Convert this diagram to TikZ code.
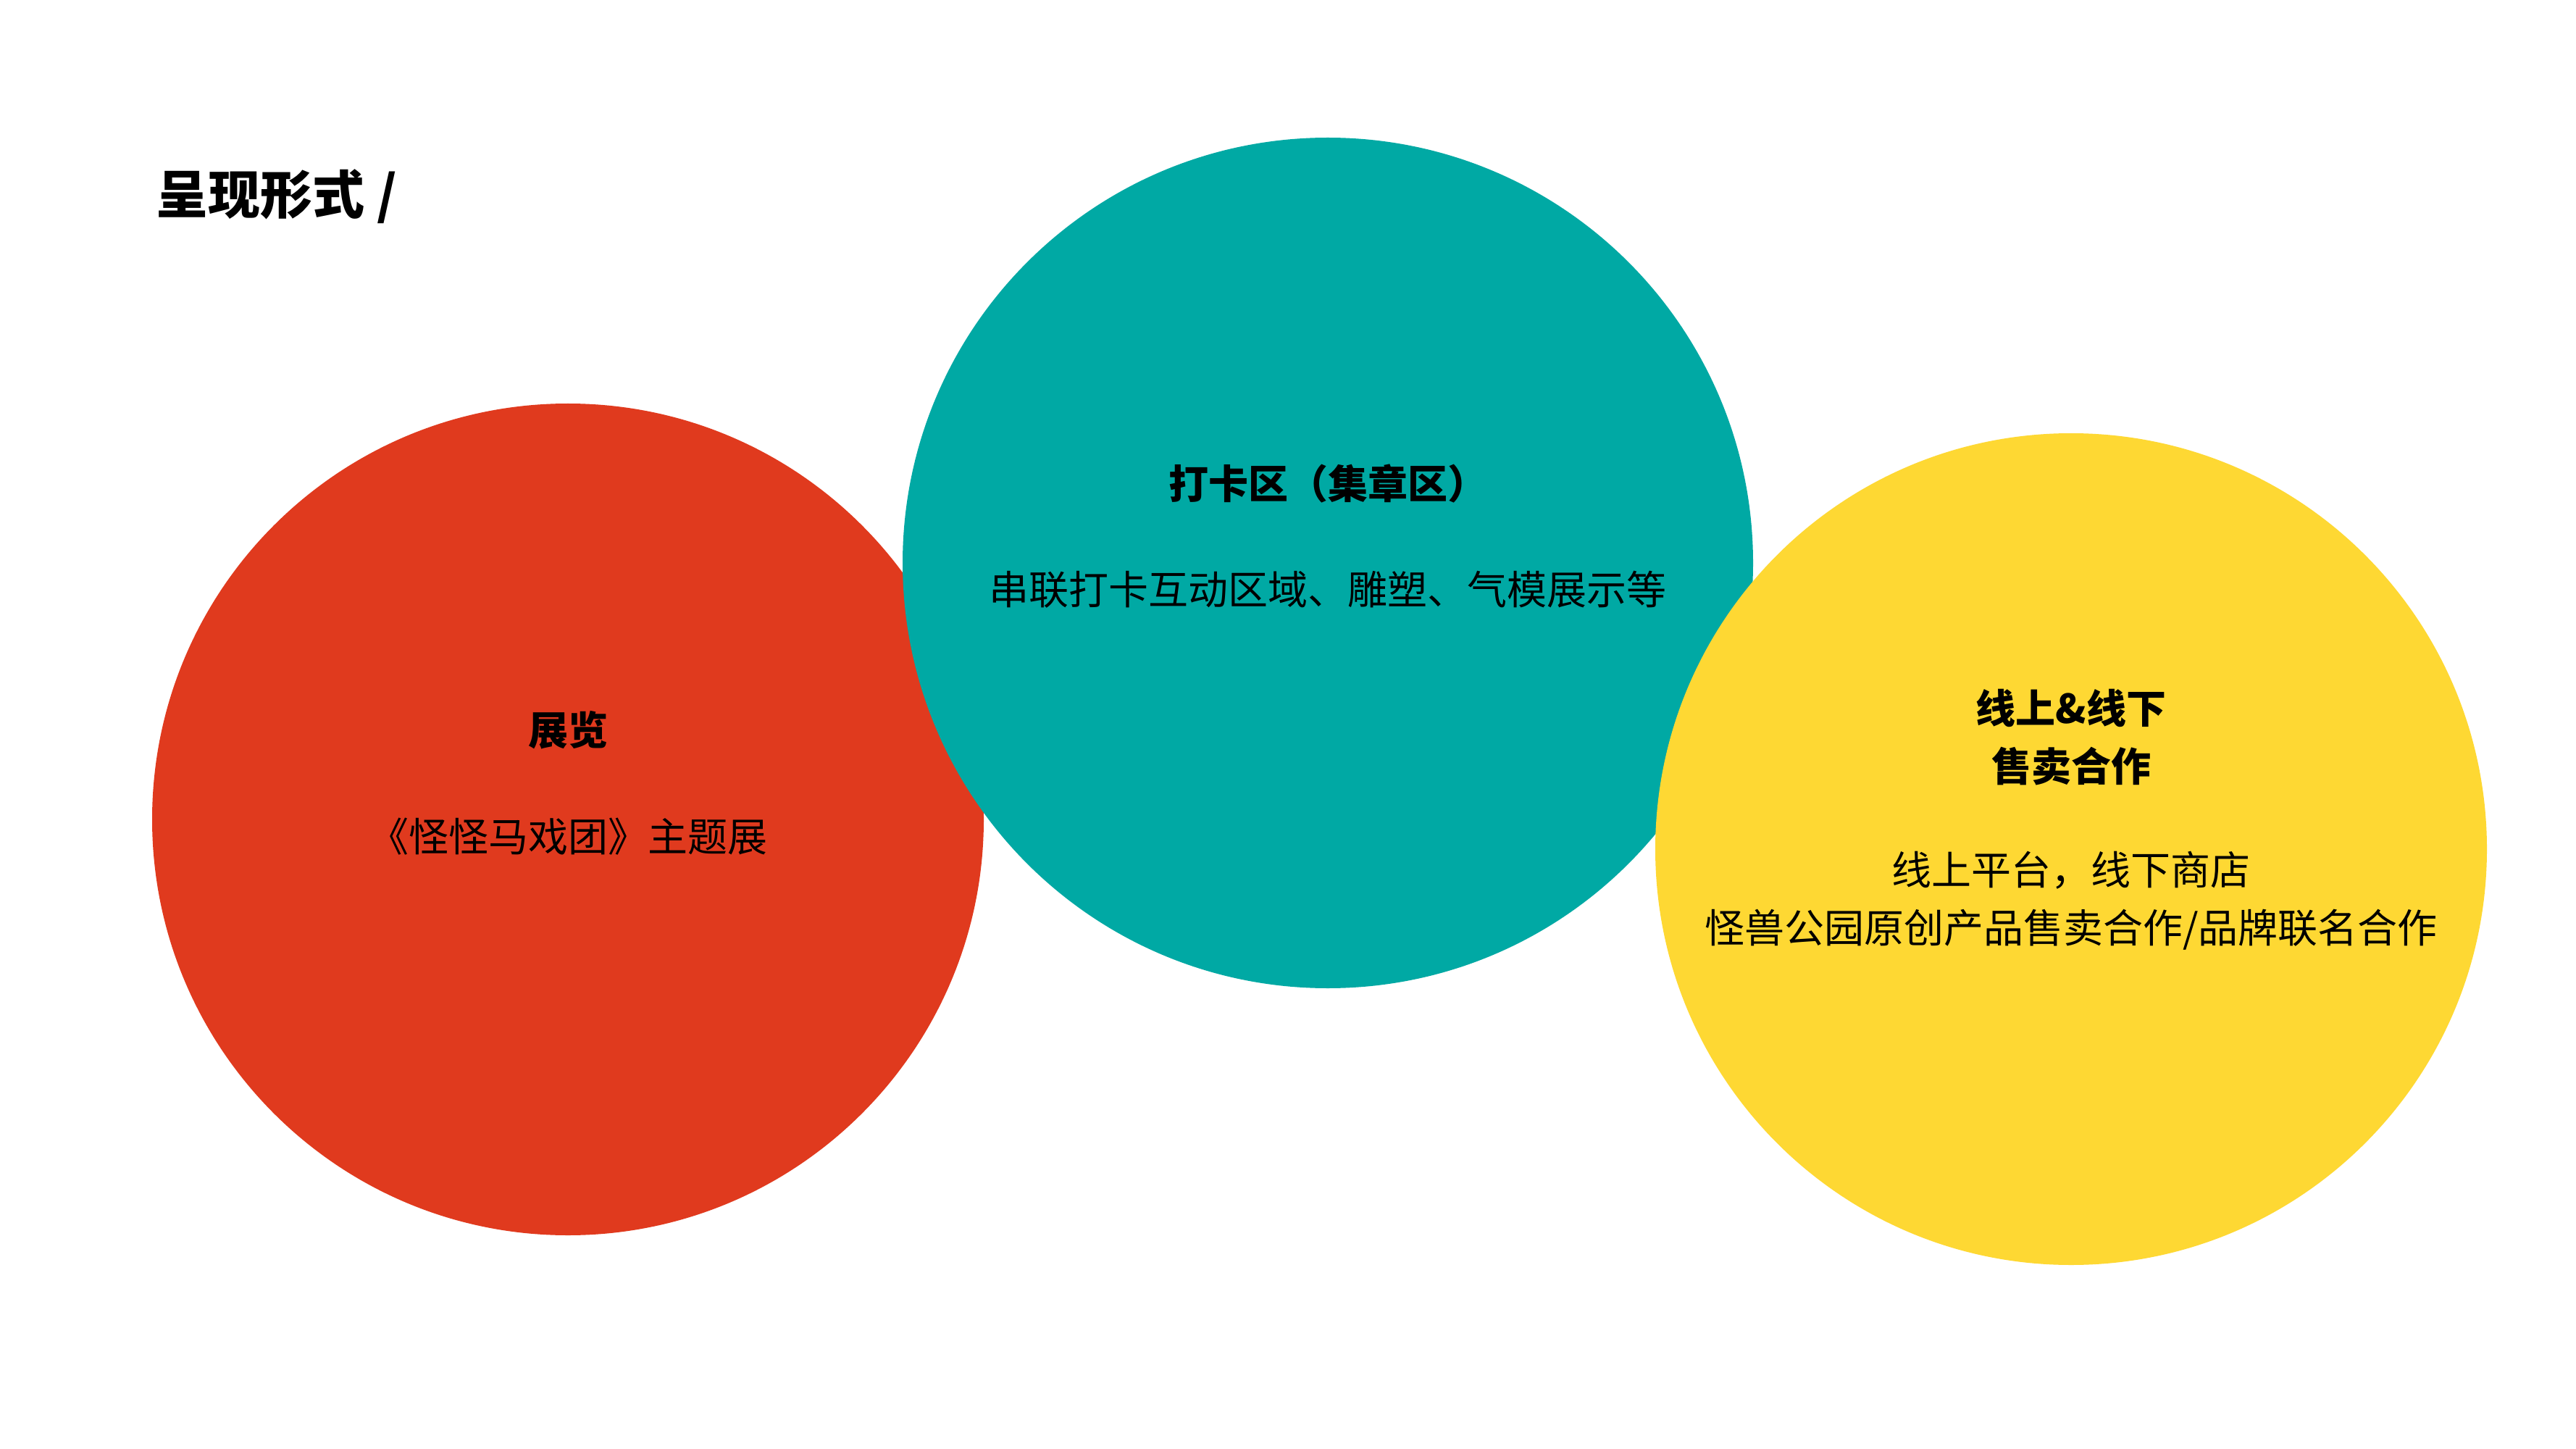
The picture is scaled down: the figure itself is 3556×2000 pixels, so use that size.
\documentclass[tikz,border=0pt]{standalone}
\usepackage{fontspec}
\newfontfamily\cjk{Noto Sans CJK SC}
\usepackage{tikz}
\usetikzlibrary{positioning}

\definecolor{zlred}{HTML}{E03A1E}
\definecolor{dkteal}{HTML}{00A9A4}
\definecolor{xsyellow}{HTML}{FED833}

\tikzset{
  blob/.style={circle,inner sep=0pt,draw=none},
  head/.style={inner sep=0pt,align=center,font=\cjk\bfseries\fontsize{13.75}{20}\selectfont},
  body/.style={inner sep=0pt,align=center,font=\cjk\fontsize{13.75}{20}\selectfont}
}

\begin{document}
\begin{tikzpicture}[x=0.25pt,y=-0.25pt]
\useasboundingbox[fill=white] (0,0) rectangle (3556,2000);
\node[anchor=west,inner sep=0pt,font=\cjk\bfseries\fontsize{18}{22}\selectfont] (title) at (215,271) {呈现形式 /};
% circles, back to front
\node[blob,fill=zlred,minimum size=287pt]    (zl) at (784,1131) {};
\node[blob,fill=dkteal,minimum size=293.5pt] (dk) at (1833,777) {};
\node[blob,fill=xsyellow,minimum size=287pt] (xs) at (2859,1172) {};
% texts
\node[head]                                   (zl_t) at (784,1008)  {展览};
\node[body,node distance=36.75pt]            (zl_b) [below of=zl_t] {《怪怪马戏团》主题展};
\node[head]                                   (dk_t) at (1833,667)  {打卡区（集章区）};
\node[body,node distance=36.75pt]            (dk_b) [below of=dk_t] {串联打卡互动区域、雕塑、气模展示等};
\node[head]                                   (xs_t) at (2859,1018) {线上\&线下\\售卖合作};
\node[body,node distance=56.25pt]            (xs_b) [below of=xs_t] {线上平台，线下商店\\怪兽公园原创产品售卖合作/品牌联名合作};
\end{tikzpicture}
\end{document}
